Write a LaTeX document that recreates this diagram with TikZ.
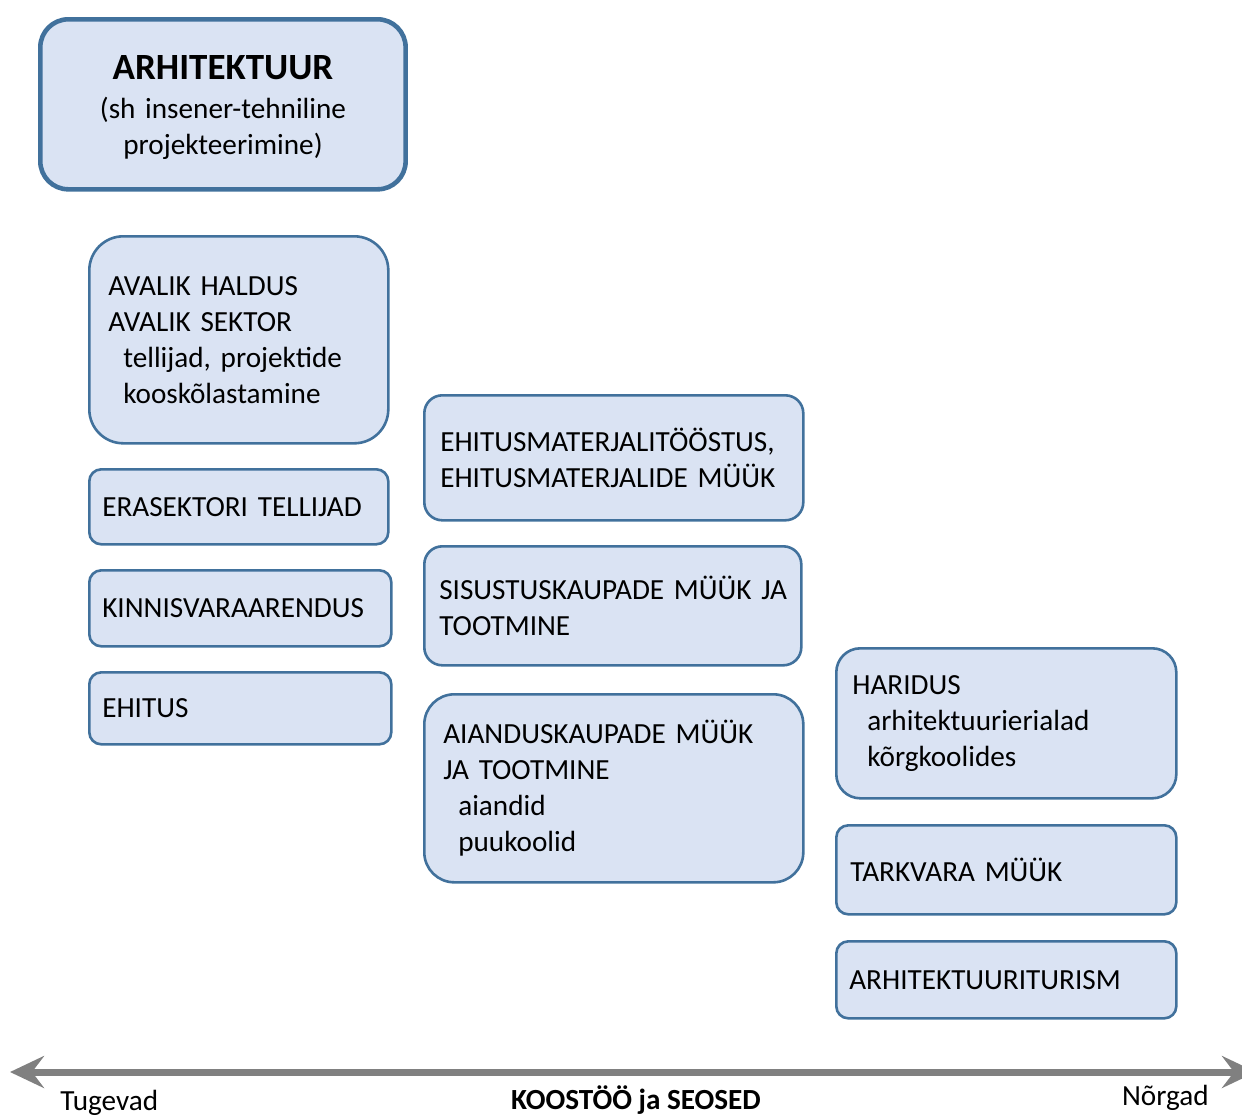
\documentclass[tikz,border=0pt]{standalone}
\usepackage{fontspec}
\setmainfont{Carlito}
\usepackage{tikz}
\usetikzlibrary{arrows.meta, positioning}

\definecolor{boxfill}{HTML}{DAE3F3}
\definecolor{boxline}{HTML}{41719C}
\definecolor{axisgray}{HTML}{808080}

\tikzset{
  box/.style={draw=boxline, fill=boxfill, line width=1.3pt, rounded corners=6pt,
    anchor=north west, align=left, inner ysep=0pt,
    font=\fontsize{14.6}{18}\selectfont},
  mainbox/.style={box, line width=2.3pt, rounded corners=14pt, align=center},
  axislabel/.style={font=\fontsize{14.6}{18}\selectfont, inner sep=0pt}
}
\newcommand{\ind}{\hspace*{7.5pt}}

\begin{document}
\begin{tikzpicture}[x=0.5pt, y=-0.5pt]
\useasboundingbox (0,0) rectangle (1242,1115);

% column 1
\node[mainbox, minimum width=182.5pt, minimum height=85pt, text width=176pt, text height=14.9pt] (arch) at (38,17)
  {{\fontsize{18.5}{18}\selectfont\bfseries ARHITEKTUUR}\\[1.5pt](sh insener-tehniline\\projekteerimine)};
\node[box, rounded corners=17pt, minimum width=149.5pt, minimum height=103.5pt, inner xsep=9.5pt, text width=130.5pt] (avalik) at (88,235)
  {AVALIK HALDUS\\AVALIK SEKTOR\\\ind tellijad, projektide\\\ind kooskõlastamine};
\node[box, minimum width=149.5pt, minimum height=37.5pt, inner xsep=6.5pt, text width=136.5pt] (erasektor) at (88,468)
  {ERASEKTORI TELLIJAD};
\node[box, minimum width=151pt, minimum height=38pt, inner xsep=6.5pt, text width=138pt] (kinnisvara) at (88,569)
  {KINNISVARAARENDUS};
\node[box, minimum width=151pt, minimum height=36pt, inner xsep=6.5pt, text width=138pt] (ehitus) at (88,671)
  {EHITUS};

% column 2
\node[box, rounded corners=9pt, minimum width=189.5pt, minimum height=62.5pt, inner xsep=8pt, text width=173.5pt] (materjal) at (423,394)
  {EHITUSMATERJALITÖÖSTUS,\\EHITUSMATERJALIDE MÜÜK};
\node[box, rounded corners=9pt, minimum width=188.5pt, minimum height=59.5pt, inner xsep=7.5pt, text width=173.5pt] (sisustus) at (423,545)
  {\mbox{SISUSTUSKAUPADE MÜÜK JA}\\TOOTMINE};
\node[box, rounded corners=15pt, minimum width=189.5pt, minimum height=94pt, inner xsep=9.5pt, text width=170.5pt] (aiandus) at (423,693)
  {AIANDUSKAUPADE MÜÜK\\JA TOOTMINE\\\ind aiandid\\\ind puukoolid};

% column 3
\node[box, rounded corners=12pt, minimum width=170pt, minimum height=75pt, inner xsep=8pt, text width=154pt] (haridus) at (835,647)
  {HARIDUS\\\ind arhitektuurierialad\\\ind kõrgkoolides};
\node[box, minimum width=170pt, minimum height=44.5pt, inner xsep=7pt, text width=156pt] (tarkvara) at (835,824)
  {TARKVARA MÜÜK};
\node[box, minimum width=170pt, minimum height=38.5pt, inner xsep=6.5pt, text width=157pt] (turism) at (835,940)
  {ARHITEKTUURITURISM};

% axis
\coordinate (tugev) at (10,1072);
\coordinate (nork) at (1256,1072);
\draw[axisgray, line width=3.5pt, {Stealth[length=17pt, width=16pt, inset=6pt]}-{Stealth[length=17pt, width=16pt, inset=6pt]}] (tugev) -- (nork);
\node[axislabel, anchor=west] (tugevad) at (60,1103) {Tugevad};
\node[axislabel, font=\fontsize{14.6}{18}\selectfont\bfseries] (koostoo) at (636,1100) {KOOSTÖÖ ja SEOSED};
\node[axislabel, anchor=east] (norgad) at (1209,1098) {Nõrgad};
\end{tikzpicture}
\end{document}
